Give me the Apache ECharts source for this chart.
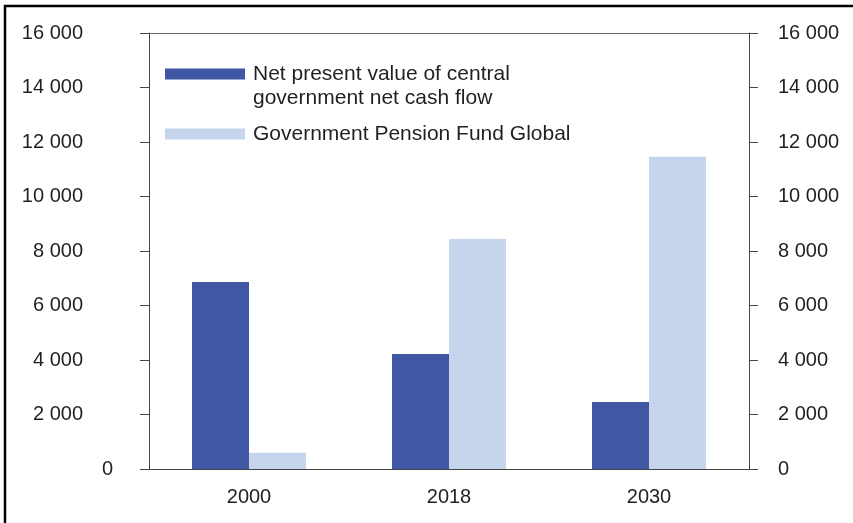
<!DOCTYPE html>
<html>
<head>
<meta charset="utf-8">
<script src="https://cdn.jsdelivr.net/npm/echarts@6/dist/echarts.min.js"></script>
<style>
  html, body { margin: 0; padding: 0; background: #fff; }
  #chart { width: 853px; height: 523px; }
</style>
</head>
<body>
<div id="chart"></div>
<script>
  // data
  var years = ['2000', '2018', '2030'];
  var netCashFlow = [6860, 4220, 2460];
  var pensionFund = [600, 8440, 11460];
  var seriesNames = ['Net present value of central\ngovernment net cash flow', 'Government Pension Fund Global'];

  var textColor = '#231f20';
  var lineColor = '#444';
  var fontFamily = '"Liberation Sans", Arial, sans-serif';

  function fmt(v) {
    return v === 0 ? '0' : (v / 1000) + ' 000';
  }

  var chart = echarts.init(document.getElementById('chart'));
  var option = {
    animation: false,
    textStyle: { fontFamily: fontFamily, color: textColor },
    grid: { left: 149, right: 104, top: 33, bottom: 54 },
    legend: {
      orient: 'vertical',
      left: 165,
      top: 37,
      padding: 0,
      itemGap: 10,
      itemWidth: 80,
      itemHeight: 11,
      icon: 'rect',
      selectedMode: false,
      // leading empty line keeps the swatch level with the first text line
      formatter: function (name) {
        return name === seriesNames[0] ? '\n' + name : name;
      },
      textStyle: { fontSize: 21, lineHeight: 24, color: textColor, fontFamily: fontFamily, padding: [2, 0, 0, 3] },
      data: [seriesNames[0], seriesNames[1]]
    },
    xAxis: [{
      type: 'category',
      data: years,
      axisLine: { lineStyle: { color: lineColor, width: 1 } },
      axisTick: { length: 6, lineStyle: { color: lineColor } },
      axisLabel: { fontSize: 20, color: textColor, margin: 18 }
    }, {
      type: 'category',
      data: years,
      position: 'top',
      axisLine: { onZero: false, lineStyle: { color: '#666', width: 1 } },
      axisTick: { show: false },
      axisLabel: { show: false }
    }],
    yAxis: [{
      type: 'value',
      min: 0, max: 16000, interval: 2000,
      position: 'left',
      splitLine: { show: false },
      axisLine: { show: true, lineStyle: { color: lineColor } },
      axisTick: { show: true, length: 9, lineStyle: { color: lineColor } },
      axisLabel: {
        fontSize: 20, color: textColor, margin: 36,
        formatter: function (v) { return v === 0 ? '0' : '{p|' + fmt(v) + '}'; },
        rich: { p: { fontSize: 20, color: textColor, padding: [0, 30, 0, 0] } }
      }
    }, {
      type: 'value',
      min: 0, max: 16000, interval: 2000,
      position: 'right',
      splitLine: { show: false },
      axisLine: { show: true, lineStyle: { color: lineColor } },
      axisTick: { show: true, length: 9, lineStyle: { color: lineColor } },
      axisLabel: { fontSize: 20, color: textColor, margin: 29, formatter: fmt }
    }],
    series: [{
      name: seriesNames[0],
      type: 'bar',
      data: netCashFlow,
      barWidth: 57,
      barGap: '0%',
      itemStyle: { color: '#3f57a5' }
    }, {
      name: seriesNames[1],
      type: 'bar',
      data: pensionFund,
      barWidth: 57,
      barGap: '0%',
      itemStyle: { color: '#c6d5ec' }
    }],
    graphic: [{
      type: 'rect',
      silent: true,
      shape: { x: 5, y: 6, width: 900, height: 600 },
      style: { fill: null, stroke: '#000', lineWidth: 2.5 }
    }]
  };
  chart.setOption(option);
  window.addEventListener('resize', chart.resize);
</script>
</body>
</html>
